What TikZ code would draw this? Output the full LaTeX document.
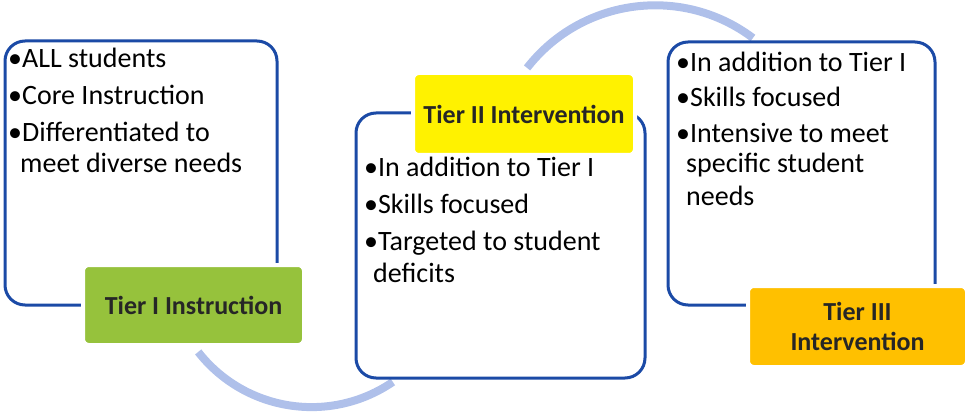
\documentclass[tikz,border=0pt]{standalone}
\usepackage{fontspec}
\setmainfont{Carlito}
\definecolor{boxblue}{HTML}{1B4AA6}
\definecolor{arcblue}{HTML}{AFC0EA}
\definecolor{tiergreen}{HTML}{96C23C}
\definecolor{tieryellow}{HTML}{FFF200}
\definecolor{tierorange}{HTML}{FFC000}
\begin{document}
\begin{tikzpicture}[x=1pt,y=-1pt,
  mainbox/.style={draw=boxblue, line width=3pt, fill=white, rounded corners=20pt,
    inner sep=0pt, minimum width=#1},
  tierlabel/.style={draw=white, line width=4pt, rounded corners=6pt, inner sep=0pt,
    align=center, font=\fontsize{26}{30}\selectfont\bfseries, text=black!85},
  bodytext/.style={anchor=base west, inner sep=0pt, font=\fontsize{28}{32}\selectfont},
  linkarc/.style={draw=arcblue, line width=8pt}]
\useasboundingbox (0,0) rectangle (967,417);

% connecting arcs, behind the boxes
\coordinate (c1) at (311.5,263.1);
\coordinate (c2) at (655.2,167.7);
\draw[linkarc] (c1) ++(141.9:144) coordinate (a1s) arc[start angle=141.9, end angle=55.6, radius=144];
\draw[linkarc] (c2) ++(-142.1:162.4) coordinate (a2s) arc[start angle=-142.1, end angle=-53, radius=162.4];

% tier boxes
\node[mainbox=272pt, minimum height=264pt] (b1) at (141,173) {};
\node[mainbox=289pt, minimum height=265pt] (b2) at (500.5,245.5) {};
\node[mainbox=267pt, minimum height=263pt] (b3) at (801.5,173.5) {};

% tier labels
\node[tierlabel, fill=tiergreen, minimum width=221pt, minimum height=80pt] (t1) at (193.5,305) {Tier I Instruction};
\node[tierlabel, fill=tieryellow, minimum width=222pt, minimum height=82pt] (t2) at (524,114) {Tier II Intervention};
\node[tierlabel, fill=tierorange, minimum width=219pt, minimum height=81pt] (t3) at (857.5,326.5) {Tier III\\Intervention};

% Tier I text
\node[bodytext] (l11) at (8,68) {•ALL students};
\node[bodytext] (l12) at (8,105) {•Core Instruction};
\node[bodytext] (l13) at (8,142) {•Differentiated to};
\node[bodytext] (l14) at (20,173) {meet diverse needs};

% Tier II text
\node[bodytext] (l21) at (364,177) {•In addition to Tier I};
\node[bodytext] (l22) at (364,213) {•Skills focused};
\node[bodytext] (l23) at (364,250) {•Targeted to student};
\node[bodytext] (l24) at (373,282) {deficits};

% Tier III text
\node[bodytext] (l31) at (676,72) {•In addition to Tier I};
\node[bodytext] (l32) at (676,107) {•Skills focused};
\node[bodytext] (l33) at (676,143) {•Intensive to meet};
\node[bodytext] (l34) at (686,173) {specific student};
\node[bodytext] (l35) at (686,205) {needs};
\end{tikzpicture}
\end{document}
